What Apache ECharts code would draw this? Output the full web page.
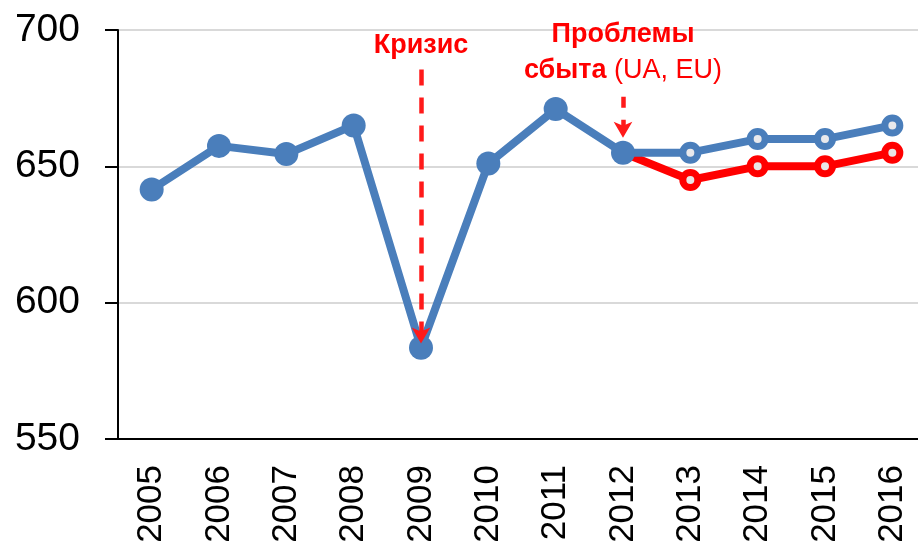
<!DOCTYPE html>
<html>
<head>
<meta charset="utf-8">
<script src="https://cdn.jsdelivr.net/npm/echarts@6/dist/echarts.min.js"></script>
<style>
html,body{margin:0;padding:0;background:#fff;}
#main{width:918px;height:543px;}
</style>
</head>
<body>
<div id="main"></div>
<script>
// годы и значения
let years=['2005','2006','2007','2008','2009','2010','2011','2012','2013','2014','2015','2016'];
let actual=[641.5,657.5,654.5,665,583.5,651,671,655];
let forecastHigh=[655,655,660,660,665];   // 2012-2016
let forecastLow=[655,645,650,650,655];    // 2012-2016
let yTicks=[550,600,650,700];
// стрелки-подписи: [год, от, до]
let crisisArrow=['2009',685.5,585];
let salesArrow=['2012',675.5,660.5];

let blue='#4a7ebb';
let red='#ff0000';

function pad(arr){
	let out=[];
	for(let i=0;i<years.length-arr.length;i++){out.push('-');}
	return out.concat(arr);
}
let highData=pad(forecastHigh);
highData[7]={value:forecastHigh[0],symbol:'none'};
let lowData=pad(forecastLow);
lowData[7]={value:forecastLow[0],symbol:'none'};

var myChart=echarts.init(document.getElementById('main'));
var option={
	animation:false,
	grid:{left:118,top:30,height:409,width:808,outerBoundsMode:'none',containLabel:false},
	xAxis:{
		type:'category',
		data:years,
		boundaryGap:true,
		axisLine:{lineStyle:{color:'#000',width:2}},
		axisTick:{length:12,lineStyle:{color:'#000',width:2}},
		axisLabel:{rotate:90,margin:26,color:'#000',fontSize:35,fontFamily:'Liberation Sans, sans-serif'},
		splitLine:{show:false}
	},
	yAxis:{
		type:'value',
		min:yTicks[0],
		max:yTicks[yTicks.length-1],
		interval:50,
		axisLine:{show:true,lineStyle:{color:'#000',width:2}},
		axisTick:{show:true,length:13,lineStyle:{color:'#000',width:2}},
		axisLabel:{margin:38,color:'#000',fontSize:39,fontFamily:'Liberation Sans, sans-serif'},
		splitLine:{lineStyle:{color:'#d9d9d9',width:2}}
	},
	series:[
		{
			name:'low',
			type:'line',
			data:lowData,
			symbol:'circle',
			symbolSize:15,
			lineStyle:{color:red,width:8},
			itemStyle:{color:'#e9e6e6',borderColor:red,borderWidth:7},
			z:2
		},
		{
			name:'high',
			type:'line',
			data:highData,
			symbol:'circle',
			symbolSize:15,
			lineStyle:{color:blue,width:8},
			itemStyle:{color:'#e9e9ec',borderColor:blue,borderWidth:7},
			z:3
		},
		{
			name:'actual',
			type:'line',
			data:actual,
			symbol:'circle',
			symbolSize:24,
			lineStyle:{color:blue,width:8},
			itemStyle:{color:blue},
			z:4,
			markLine:{
				silent:true,
				symbol:['none','arrow'],
				symbolSize:[14,16],
				lineStyle:{color:'#ff1a1a',width:4.5,type:[16,12]},
				label:{
					show:true,
					position:'start',
					distance:10,
					color:red,
					fontFamily:'Liberation Sans, sans-serif',
					fontSize:27,
					fontWeight:'bold'
				},
				data:[
					[
						{coord:[crisisArrow[0],crisisArrow[1]],label:{formatter:'Кризис'}},
						{coord:[crisisArrow[0],crisisArrow[2]]}
					],
					[
						{coord:[salesArrow[0],salesArrow[1]],lineStyle:{type:[11,12]},label:{
							formatter:'{b|Проблемы}\n{b|сбыта} {n|(UA, EU)}',
							distance:8,
							rich:{
								b:{color:red,fontSize:27,fontWeight:'bold',fontFamily:'Liberation Sans, sans-serif',lineHeight:36},
								n:{color:red,fontSize:27,fontWeight:'normal',fontFamily:'Liberation Sans, sans-serif',lineHeight:36}
							}
						}},
						{coord:[salesArrow[0],salesArrow[2]]}
					]
				]
			}
		}
	]
};
myChart.setOption(option);
</script>
</body>
</html>
